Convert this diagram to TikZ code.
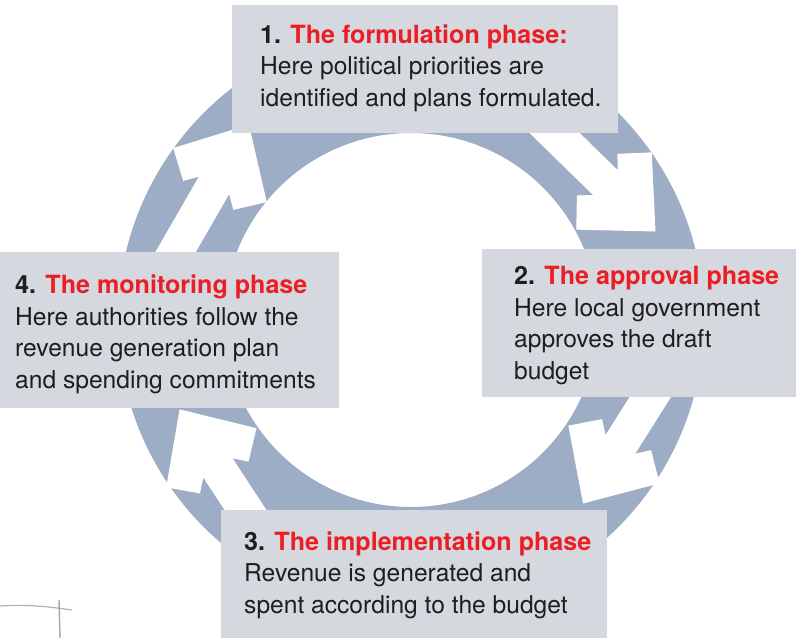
\documentclass[tikz,border=0pt]{standalone}
\usepackage{fontspec}
\setmainfont{TeX Gyre Heros}
\definecolor{ringc}{RGB}{158,173,198}
\definecolor{boxc}{RGB}{213,216,222}
\definecolor{phred}{RGB}{235,30,38}
\definecolor{txtc}{RGB}{30,30,30}
\newcommand\cyclearrow[3]{%
  \begin{scope}[shift={(#1,#2)}, rotate=#3]
    \fill[white] (0,0) -- (-58,54) -- (-81.5,29) -- (-70,17.5) -- (-200,17.5)
      -- (-200,-17.5) -- (-70,-17.5) -- (-81.5,-29) -- (-58,-54) -- cycle;
  \end{scope}}
\begin{document}
\begin{tikzpicture}[x=1pt,y=-1pt,
  phasebox/.style={fill=boxc, draw=none, inner sep=0pt, anchor=north west},
  ln/.style={anchor=base west, inner sep=0pt, text=txtc, font=\fontsize{24.6}{28}\selectfont},
  hd/.style={ln, font=\fontsize{25.1}{28}\selectfont\bfseries}]
\useasboundingbox (0,0) rectangle (800,638);
% ring
\fill[ringc, even odd rule] (411,320) circle[radius=293] (411,320) circle[radius=187];
% arrows
\cyclearrow{249}{124.8}{60}
\cyclearrow{655.5}{231.5}{-44.3}
\cyclearrow{583}{503.5}{-122.3}
\cyclearrow{179.6}{409.3}{123.2}
% boxes
\node[phasebox, minimum width=386, minimum height=128] (b1) at (232,5) {};
\node[phasebox, minimum width=314, minimum height=148] (b2) at (482,249) {};
\node[phasebox, minimum width=339, minimum height=156] (b4) at (0,252) {};
\node[phasebox, minimum width=386, minimum height=128] (b3) at (221,510) {};
% texts box 1
\node[hd] (t1a) at (260,43) {1. \textcolor{phred}{The formulation phase:}};
\node[ln] (t1b) at (260,74.5) {Here political priorities are};
\node[ln] (t1c) at (260,106) {identified and plans formulated.};
% box 2
\node[hd] (t2a) at (514,284) {2. \textcolor{phred}{The approval phase}};
\node[ln] (t2b) at (514,316) {Here local government};
\node[ln] (t2c) at (514,347.5) {approves the draft};
\node[ln] (t2d) at (514,379) {budget};
% box 4
\node[hd] (t4a) at (15,293) {4. \textcolor{phred}{The monitoring phase}};
\node[ln] (t4b) at (15,325) {Here authorities follow the};
\node[ln] (t4c) at (15,356.5) {revenue generation plan};
\node[ln] (t4d) at (15,388) {and spending commitments};
% box 3
\node[hd] (t3a) at (244,550) {3. \textcolor{phred}{The implementation phase}};
\node[ln] (t3b) at (244,581.5) {Revenue is generated and};
\node[ln] (t3c) at (244,613) {spent according to the budget};
% scribble
\draw[gray!60, line width=1.2pt] (0,606) .. controls (30,604) and (50,607) .. (72,610);
\draw[gray!70, line width=1.4pt] (59,600) -- (60,638);
\end{tikzpicture}
\end{document}
